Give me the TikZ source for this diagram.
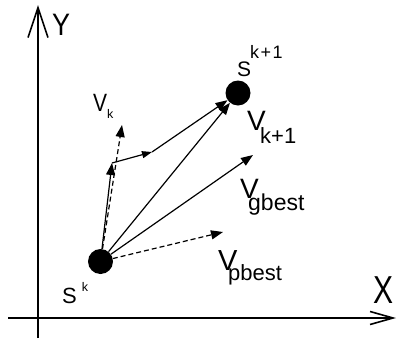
\documentclass[tikz,border=0pt]{standalone}
\usepackage{fontspec}
\setmainfont{Liberation Sans}
\usetikzlibrary{arrows.meta}
\newcommand\fsz[1]{\fontsize{#1}{#1}\selectfont}
\begin{document}
\begin{tikzpicture}[x=1pt,y=-1pt,
  axis/.style={line width=1.6pt},
  vec/.style={line width=1.2pt,-{Triangle[length=12pt,width=9pt]}},
  smallvec/.style={line width=1.2pt,-{Triangle[length=10pt,width=7pt]}},
  dvec/.style={vec,dash pattern=on 5pt off 3pt},
  dot/.style={circle,fill=black,inner sep=0pt,minimum size=25pt},
  lab/.style={inner sep=0pt,anchor=base west}]
\useasboundingbox (0,0) rectangle (397,338);
% axes
\coordinate (y0) at (38,338);
\coordinate (y1) at (38,5);
\coordinate (x0) at (8,318);
\coordinate (x1) at (396,318);
\draw[axis,-{Straight Barb[length=30pt,width=20pt,line width=1.6pt]}] (y0) -- (y1);
\draw[axis,-{Straight Barb[length=23pt,width=13pt,line width=1.6pt]}] (x0) -- (x1);
\node[lab] (ylab) at (52,35) {\scalebox{0.87}[1]{\fsz{31}Y}};
\node[lab] (xlab) at (373,303) {\scalebox{0.77}[1]{\fsz{39}X}};
% points
\node[dot] (sk) at (100.5,261.5) {};
\node[dot] (sk1) at (238,93) {};
\coordinate (p1) at (112,163);
\coordinate (p2) at (152,152);
\coordinate (vk) at (122,125);
\coordinate (vg) at (253,155);
\coordinate (vp) at (223,232);
% vectors
\draw[vec] (sk) -- (sk1);
\draw[vec] (sk) -- (vg);
\draw[dvec] (sk) -- (vp);
\draw[dvec] (sk) -- (vk);
\draw[vec] (sk) -- (p1);
\draw[smallvec] (p1) -- (p2);
\draw[vec] (p2) -- (sk1);
% labels
\node[lab] (sklab) at (62,303) {\fsz{22}S\kern5pt\raisebox{12pt}{\fsz{12.5}k}};
\node[lab] (sk1lab) at (237,76) {\fsz{21}S\kern-1pt\raisebox{18pt}{\fsz{18}k\kern1.5pt+\kern1.5pt1}};
\node[lab] (vklab) at (93,111) {\scalebox{0.84}[1]{\fsz{25}V}\raisebox{-7pt}{\fsz{12.5}k}};
\node[lab] (vk1lab) at (247,130) {\fsz{28}V\kern-5.7pt\raisebox{-13pt}{\fsz{22}k+1}};
\node[lab] (vglab) at (240,198) {\fsz{28}V\kern-10.7pt\raisebox{-12pt}{\fsz{23}gbest}};
\node[lab] (vplab) at (218,270) {\fsz{29}V\kern-9.3pt\raisebox{-10pt}{\fsz{22}pbest}};
\end{tikzpicture}
\end{document}
